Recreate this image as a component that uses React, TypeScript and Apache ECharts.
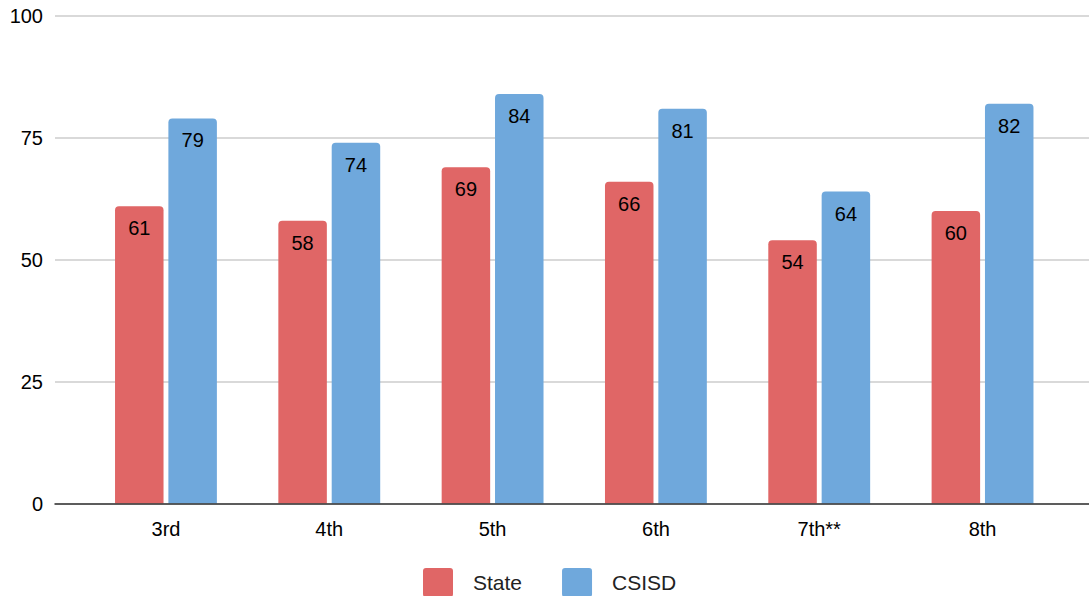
import React, { useEffect, useRef } from "react";
import * as echarts from "echarts";

// Grade levels and the two groups being compared
const grades = ["3rd", "4th", "5th", "6th", "7th**", "8th"];
const stateValues = [61, 58, 69, 66, 54, 60];
const csisdValues = [79, 74, 84, 81, 64, 82];
const yTicks = { min: 0, max: 100, interval: 25 };

const FONT = "'Liberation Sans', Arial, sans-serif";
const RED = "#e06666";
const BLUE = "#6fa8dc";
// legend swatch: a square with slightly rounded corners
const SWATCH = "path://M3,0 H27 Q30,0 30,3 V26 Q30,29 27,29 H3 Q0,29 0,26 V3 Q0,0 3,0 Z";

export default function App() {
  const ref = useRef<HTMLDivElement>(null);

  useEffect(() => {
    if (!ref.current) return;
    const chart = echarts.init(ref.current, undefined, { renderer: "svg" });

    const label = {
      show: true,
      position: "insideTop" as const,
      distance: 12,
      color: "#000",
      fontSize: 20,
      fontFamily: FONT,
    };

    chart.setOption({
      animation: false,
      textStyle: { fontFamily: FONT },
      legend: {
        left: 418,
        top: 563,
        itemWidth: 30,
        itemHeight: 29,
        itemGap: 40,
        icon: SWATCH,
        textStyle: { fontSize: 21, color: "#222", fontFamily: FONT, padding: [0, 0, 0, 15], lineHeight: 29 },
        data: ["State", "CSISD"],
      },
      grid: [
        // background grid: gridlines, y labels and baseline across the full width
        { left: 55, right: 0, top: 16, bottom: 92.5 },
        // bar grid
        { left: 84.3, right: 24.8, top: 16, bottom: 92.5 },
      ],
      xAxis: [
        {
          gridIndex: 0,
          type: "category",
          data: [""],
          axisLine: { show: true, lineStyle: { color: "#333", width: 1.5 } },
          axisTick: { show: false },
          axisLabel: { show: false },
          z: 5,
        },
        {
          gridIndex: 1,
          type: "category",
          data: grades,
          axisLine: { show: false },
          axisTick: { show: false },
          axisLabel: { fontSize: 20, color: "#000", margin: 15, fontFamily: FONT },
        },
      ],
      yAxis: [
        {
          gridIndex: 0,
          type: "value",
          ...yTicks,
          axisLine: { show: false },
          axisTick: { show: false },
          axisLabel: { fontSize: 20, color: "#000", margin: 12, fontFamily: FONT },
          splitLine: { lineStyle: { color: "#cccccc", width: 1.5 } },
        },
        {
          gridIndex: 1,
          type: "value",
          ...yTicks,
          show: false,
          splitLine: { show: false },
        },
      ],
      series: [
        {
          name: "State",
          type: "bar",
          xAxisIndex: 1,
          yAxisIndex: 1,
          data: stateValues,
          barWidth: "29.7%",
          barGap: "10%",
          itemStyle: { color: RED, borderRadius: [4, 4, 0, 0] },
          label,
        },
        {
          name: "CSISD",
          type: "bar",
          xAxisIndex: 1,
          yAxisIndex: 1,
          data: csisdValues,
          barWidth: "29.7%",
          barGap: "10%",
          itemStyle: { color: BLUE, borderRadius: [4, 4, 0, 0] },
          label,
        },
      ],
    });

    return () => chart.dispose();
  }, []);

  return <div ref={ref} style={{ width: 1089, height: 596, position: "absolute", left: 0, top: 0 }} />;
}
